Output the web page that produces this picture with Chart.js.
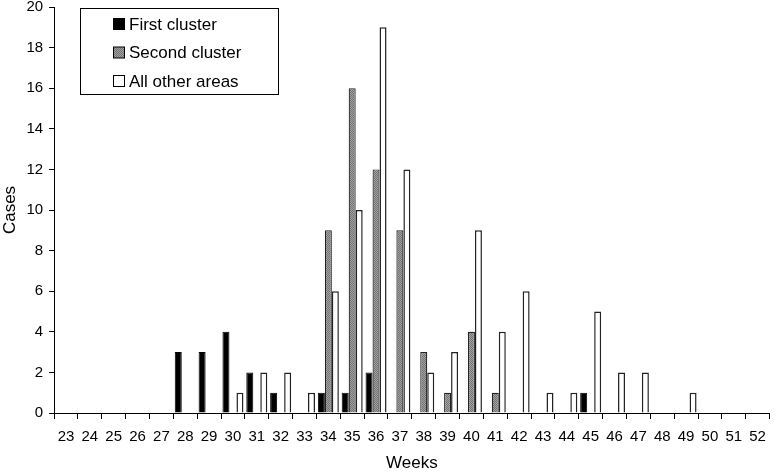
<!DOCTYPE html>
<html>
<head>
<meta charset="utf-8">
<script src="https://cdn.jsdelivr.net/npm/chart.js@4.4.1/dist/chart.umd.min.js"></script>
<style>
  html, body { margin: 0; padding: 0; background: #fff; }
  #wrap { width: 775px; height: 472px; }
</style>
</head>
<body>
<div id="wrap"><canvas id="chart" width="775" height="472"></canvas></div>
<script>
// weeks on the x axis
const weeks = ["23","24","25","26","27","28","29","30","31","32","33","34","35","36","37",
  "38","39","40","41","42","43","44","45","46","47","48","49","50","51","52"];

// cases per week
const firstCluster  = [0,0,0,0,0,3,3,4,2,1,0,1,1,2,0,0,0,0,0,0,0,0,1,0,0,0,0,0,0,0];
const secondCluster = [0,0,0,0,0,0,0,0,0,0,0,9,16,12,9,3,1,4,1,0,0,0,0,0,0,0,0,0,0,0];
const otherAreas    = [0,0,0,0,0,0,0,1,2,2,1,6,10,19,12,2,3,9,4,6,1,1,5,2,2,0,1,0,0,0];

const yTicks = [0,2,4,6,8,10,12,14,16,18,20];

// dotted grey fill like the print
function greyPattern() {
  const c = document.createElement("canvas");
  c.width = 2; c.height = 2;
  const g = c.getContext("2d");
  g.fillStyle = "#a4a4a4"; g.fillRect(0, 0, 2, 2);
  g.fillStyle = "#707070"; g.fillRect(0, 0, 1, 1); g.fillRect(1, 1, 1, 1);
  return g.createPattern(c, "repeat");
}
const grey = greyPattern();

const font = "'Liberation Sans', Arial, sans-serif";

// legend box drawn inside the plot, top left
const boxLegend = {
  id: "boxLegend",
  afterDraw(chart) {
    const ctx = chart.ctx;
    const x = 80, y = 8, w = 198, h = 86;
    ctx.save();
    ctx.fillStyle = "#fff";
    ctx.fillRect(x, y, w, h);
    ctx.strokeStyle = "#000";
    ctx.lineWidth = 1;
    ctx.strokeRect(x + 0.5, y + 0.5, w, h);
    ctx.font = "17px " + font;
    ctx.textBaseline = "middle";
    chart.data.datasets.forEach((ds, i) => {
      const cy = y + 16 + i * 28.5;
      ctx.fillStyle = ds.backgroundColor;
      ctx.fillRect(113.5, cy - 5.5, 11, 11);
      ctx.strokeRect(113.5, cy - 5.5, 11, 11);
      ctx.fillStyle = "#000";
      ctx.fillText(ds.label, 129, cy + 1);
    });
    ctx.restore();
  }
};

new Chart(document.getElementById("chart"), {
  type: "bar",
  data: {
    labels: weeks,
    datasets: [
      { label: "First cluster", data: firstCluster, backgroundColor: "#000", borderColor: "#000", borderWidth: 1 },
      { label: "Second cluster", data: secondCluster, backgroundColor: grey, borderColor: "#222", borderWidth: 1.2 },
      { label: "All other areas", data: otherAreas, backgroundColor: "#fff", borderColor: "#222", borderWidth: 1.5 }
    ]
  },
  options: {
    responsive: false,
    animation: false,
    devicePixelRatio: 1,
    categoryPercentage: 0.88,
    barPercentage: 1,
    layout: { padding: { top: 0, right: 2, left: 0, bottom: 0 } },
    plugins: {
      legend: { display: false },
      tooltip: { enabled: false }
    },
    scales: {
      x: {
        grid: { offset: true, drawOnChartArea: false, drawTicks: true, tickLength: 6, color: "#000" },
        border: { color: "#000", width: 1 },
        ticks: { color: "#000", font: { family: font, size: 15 }, padding: 9, maxRotation: 0, autoSkip: false },
        title: { display: true, text: "Weeks", color: "#000", font: { family: font, size: 17, lineHeight: 1 }, padding: { top: 0, bottom: 0 } }
      },
      y: {
        min: 0,
        max: 20,
        afterBuildTicks(axis) { axis.ticks = yTicks.map(v => ({ value: v })); },
        afterFit(axis) { axis.paddingTop = 7; axis.paddingBottom = 0; },
        grid: { drawOnChartArea: false, drawTicks: true, tickLength: 5, color: "#000" },
        border: { color: "#000", width: 1 },
        ticks: { color: "#000", font: { family: font, size: 15 }, padding: 6 },
        title: { display: true, text: "Cases", color: "#000", font: { family: font, size: 17 }, padding: { top: 0, bottom: 0 } }
      }
    }
  },
  plugins: [boxLegend]
});
</script>
</body>
</html>
